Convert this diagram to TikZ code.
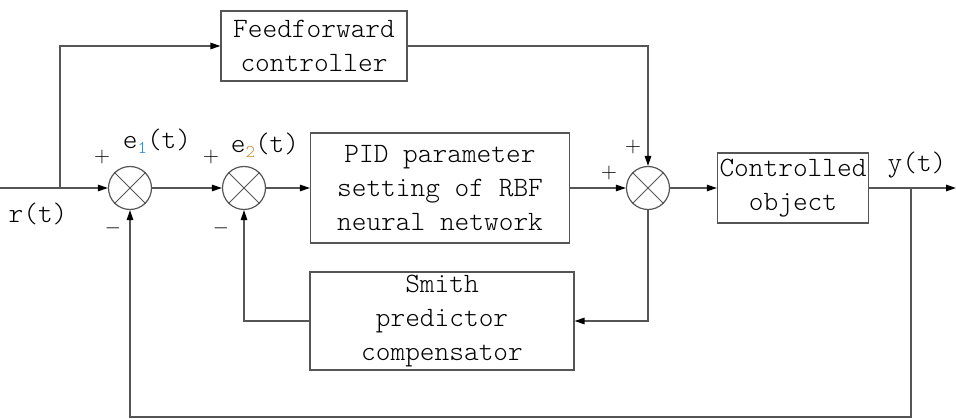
\documentclass[tikz,border=0pt]{standalone}
\usepackage{fontspec}
\usetikzlibrary{arrows.meta}
\definecolor{ln}{HTML}{555555}
\definecolor{subA}{HTML}{3A7FB5}
\definecolor{subB}{HTML}{D08A2A}
\newcommand{\subc}[2]{\textcolor{#1}{\raisebox{-5pt}{\fontsize{18}{18}\selectfont #2}}}
\begin{document}
\begin{tikzpicture}[x=1pt,y=-1pt,
  blk/.style={draw=ln,line width=1.2pt,align=center,font=\fontsize{28}{34}\ttfamily\fontseries{l}\selectfont,inner sep=0pt},
  sumj/.style={circle,draw=ln,line width=1.2pt,minimum size=43pt,inner sep=0pt},
  wire/.style={draw=ln,line width=1.3pt},
  arr/.style={wire,-{Triangle[length=10pt,width=6.5pt,color=black]}},
  sgn/.style={font=\fontsize{22}{22}\selectfont,inner sep=0pt},
  lbl/.style={font=\fontsize{28}{28}\ttfamily\fontseries{l}\selectfont,inner sep=0pt}]
\useasboundingbox (0,0) rectangle (956,419);
% blocks
\node[blk,minimum width=186pt,minimum height=70pt] (ff) at (314,46) {Feedforward\\controller};
\node[sumj] (s1) at (130,188) {};
\node[sumj] (s2) at (244,188) {};
\node[blk,minimum width=259pt,minimum height=110pt] (pid) at (440,188) {PID parameter\\setting of RBF\\neural network};
\node[sumj] (s3) at (648,188) {};
\node[blk,minimum width=151pt,minimum height=70pt] (co) at (793,188) {Controlled\\object};
\node[blk,minimum width=264pt,minimum height=98pt] (sm) at (442,321) {Smith\\predictor\\compensator};
\foreach \s in {s1,s2,s3} {\draw[ln,line width=1pt] (\s.north west) -- (\s.south east) (\s.north east) -- (\s.south west);}
% coordinates
\coordinate (in) at (0,188);
\coordinate (br) at (60,188);
\coordinate (yb) at (911,188);
\coordinate (out) at (956,188);
\coordinate (bot) at (911,417);
% wires
\draw[arr] (in) -- (s1.west);
\draw[arr] (br) |- (ff.west);
\draw[arr] (s1.east) -- (s2.west);
\draw[arr] (s2.east) -- (pid.west);
\draw[arr] (pid.east) -- (s3.west);
\draw[arr] (ff.east) -| (s3.north);
\draw[arr] (s3.east) -- (co.west);
\draw[arr] (co.east) -- (out);
\draw[arr] (s3.south) |- (sm.east);
\draw[arr] (sm.west) -| (s2.south);
\draw[arr] (yb) -- (bot) -| (s1.south);
% labels
\node[lbl] (rt) at (38,214) {r(t)};
\node[lbl] (e1) at (157,141) {e\subc{subA}{1}(t)};
\node[lbl] (e2) at (265,145) {e\subc{subB}{2}(t)};
\node[lbl] (yt) at (917,165) {y(t)};
\node[sgn] (p1) at (102,157) {+};
\node[sgn] (m1) at (113,228) {$-$};
\node[sgn] (p2) at (211,157) {+};
\node[sgn] (m2) at (221,228) {$-$};
\node[sgn] (p3) at (633,147) {+};
\node[sgn] (p4) at (609,173) {+};
\end{tikzpicture}
\end{document}
